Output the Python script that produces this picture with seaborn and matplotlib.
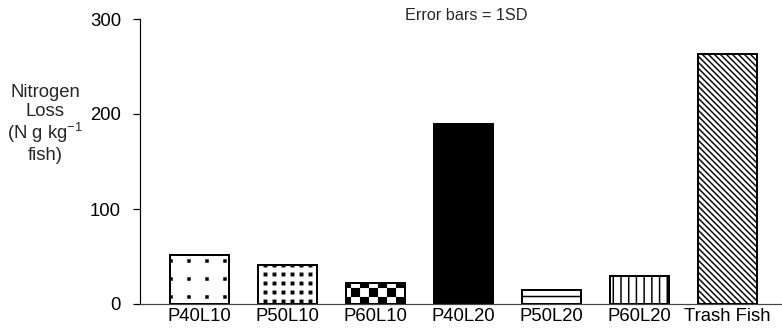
import numpy as np
import pandas as pd
import matplotlib
matplotlib.use("Agg")
import matplotlib.pyplot as plt
import matplotlib.hatch as mhatch
from matplotlib.path import Path
import seaborn as sns

# ---------------- data ----------------
categories = ["P40L10", "P50L10", "P60L10", "P40L20", "P50L20", "P60L20", "Trash Fish"]
nitrogen_loss = [52, 41, 22, 189, 15, 29, 263]
bar_colors = ["white", "white", "white", "black", "white", "white", "white"]
bar_hatches = ["o", "O", "x", "", "-", "|", "\\"]
y_ticks = [0, 100, 200, 300]
annotation = "Error bars = 1SD"
y_label = "Nitrogen\nLoss\n(N g kg$^{-1}$\nfish)"

DPI = 108
W, H = 782, 332


def pt(px):
    return px * 72.0 / DPI


# ------------- custom hatch patterns (unit = one hatch tile = DPI px) -------------
def _squares(centers, side):
    verts, codes = [], []
    h = side / 2.0
    for cx, cy in centers:
        verts += [(cx - h, cy - h), (cx + h, cy - h), (cx + h, cy + h), (cx - h, cy + h), (cx - h, cy - h)]
        codes += [Path.MOVETO, Path.LINETO, Path.LINETO, Path.LINETO, Path.CLOSEPOLY]
    return verts, codes


def _build(hatch):
    verts, codes = [], []
    if hatch == "o":  # sparse square dots
        n = 6
        c = [((i + 0.5) / n, (j + 0.5) / n) for i in range(n) for j in range(n)]
        return _squares(c, 2.0 / DPI)
    if hatch == "O":  # dense square dots
        n = 12
        c = [((i + 0.5) / n, (j + 0.5) / n) for i in range(n) for j in range(n)]
        return _squares(c, 2.4 / DPI)
    if hatch == "x":  # checkerboard
        n = 12
        c = [((i + 0.5) / n, (j + 0.5) / n) for i in range(n) for j in range(n) if (i + j) % 2 == 0]
        return _squares(c, 1.0 / n - 1.4 / DPI)
    if hatch == "-":
        n = 8
        y0 = 1 - 80.5 / DPI
        for j in range(n):
            y = (y0 + j / n) % 1.0
            verts += [(-0.1, y), (1.1, y)]
            codes += [Path.MOVETO, Path.LINETO]
        return verts, codes
    if hatch == "|":
        n = 14
        for i in range(n):
            x = (i + 0.5) / n
            verts += [(x, -0.1), (x, 1.1)]
            codes += [Path.MOVETO, Path.LINETO]
        return verts, codes
    if hatch == "\\":
        n = 18
        for k in range(-2, 2 * n + 3):
            c = k / n
            verts += [(-0.1, c + 0.1), (1.1, c - 1.1)]
            codes += [Path.MOVETO, Path.LINETO]
        return verts, codes
    return verts, codes


class _CustomHatch(mhatch.HatchPatternBase):
    def __init__(self, hatch, density):
        v, c = _build(hatch)
        self._v = np.asarray(v, dtype=float).reshape(-1, 2)
        self._c = np.asarray(c, dtype=Path.code_type)
        self.num_vertices = len(self._v)

    def set_vertices_and_codes(self, vertices, codes):
        vertices[:] = self._v
        codes[:] = self._c


mhatch._hatch_types = [_CustomHatch]

# ---------------- style ----------------
sns.set_theme(style="white")
plt.rcParams["font.family"] = ["Liberation Sans", "DejaVu Sans"]
plt.rcParams["mathtext.fontset"] = "custom"
plt.rcParams["mathtext.rm"] = "Liberation Sans"
plt.rcParams["mathtext.default"] = "regular"
plt.rcParams["hatch.linewidth"] = pt(1.5)
plt.rcParams["hatch.color"] = "black"

FS = 18.5  # px

fig = plt.figure(figsize=(W / DPI, H / DPI), dpi=DPI)
ax = fig.add_axes([140 / W, 1 - 304 / H, (W - 140) / W, (304 - 19) / H])

df = pd.DataFrame({"category": categories, "loss": nitrogen_loss})
sns.barplot(data=df, x="category", y="loss", hue="category", palette=bar_colors,
            saturation=1, legend=False, width=0.67, edgecolor="black",
            linewidth=pt(2), ax=ax, errorbar=None)

for cont, hatch in zip(ax.containers, bar_hatches):
    for bar in cont:
        bar.set_edgecolor("black")
        if hatch:
            bar.set_hatch(hatch)

ax.set_xlim(-0.67, 6.617)
ax.set_ylim(0, 300)
ax.set_yticks(y_ticks)
ax.set_xlabel("")
ax.set_ylabel(y_label, rotation=0, fontsize=pt(FS), ha="center", va="center",
              ma="center", linespacing=1.1)
ax.yaxis.set_label_coords((45 - 140) / (W - 140), (304 - 124) / 285)

for s in ["top", "right"]:
    ax.spines[s].set_visible(False)
ax.spines["left"].set_color("black")
ax.spines["left"].set_linewidth(pt(1.2))
ax.spines["bottom"].set_color("#444444")
ax.spines["bottom"].set_linewidth(pt(1.2))

ax.tick_params(axis="y", direction="out", length=pt(7), width=pt(1.2), pad=pt(12),
               labelsize=pt(FS), colors="black", left=True)
ax.tick_params(axis="x", length=0, pad=pt(4), labelsize=pt(FS), colors="black")
ax.grid(False)

fig.text(466 / W, 1 - 15 / H, annotation, ha="center", va="center", fontsize=pt(16.2))

fig.savefig("out.png", dpi=DPI, facecolor="white")
